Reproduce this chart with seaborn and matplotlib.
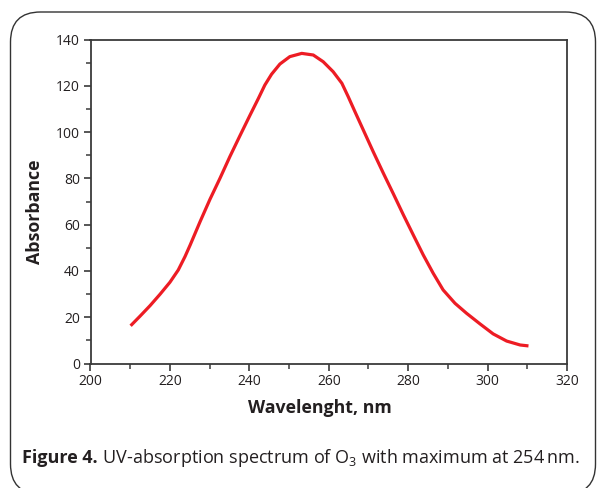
import matplotlib
matplotlib.use("Agg")
import matplotlib.pyplot as plt
import matplotlib.transforms as mtransforms
import seaborn as sns
import pandas as pd
from matplotlib.patches import FancyBboxPatch
from matplotlib.ticker import MultipleLocator

wavelength = [210.1, 212.5, 215.0, 217.5, 220.0, 222.1, 223.8, 225.1, 227.6, 230.1,
              232.6, 235.1, 237.6, 240.2, 242.3, 243.9, 245.6, 247.7, 250.2, 253.2,
              256.1, 258.6, 261.1, 263.3, 264.9, 266.6, 268.7, 271.2, 273.7, 276.3,
              278.8, 281.3, 283.8, 286.3, 288.8, 291.8, 294.7, 298.1, 301.4, 304.8,
              308.2, 310.3]
absorbance = [16.3, 20.5, 25.0, 29.9, 35.1, 40.4, 46.2, 51.2, 61.3, 71.0,
              80.0, 89.4, 98.3, 107.4, 114.6, 120.3, 125.0, 129.4, 132.6, 134.0,
              133.3, 130.4, 126.1, 121.1, 115.3, 108.8, 100.9, 91.5, 82.4, 73.2,
              64.2, 55.5, 46.9, 39.0, 31.8, 26.0, 21.7, 17.1, 12.8, 9.7,
              8.0, 7.6]
x_ticks = [200, 220, 240, 260, 280, 300, 320]
y_ticks = [0, 20, 40, 60, 80, 100, 120, 140]
x_label = "Wavelenght, nm"
y_label = "Absorbance"
caption_bold = "Figure 4."
caption_rest = " UV-absorption spectrum of O$_3$ with maximum at 254\u2009nm."

sns.set_style("ticks")
plt.rcParams['font.family'] = ['Open Sans', 'DejaVu Sans']
plt.rcParams['mathtext.fontset'] = 'custom'
plt.rcParams['mathtext.rm'] = 'Open Sans'
plt.rcParams['mathtext.it'] = 'Open Sans:italic'
plt.rcParams['mathtext.bf'] = 'Open Sans:bold'

text_col = "#231f20"
W, H = 597, 488
fig = plt.figure(figsize=(W / 100, H / 100), dpi=100)
fig.patch.set_facecolor("white")

# rounded frame (pixel coordinates)
frame = FancyBboxPatch((10.5, -6), 585, H - 12 + 6,
                       boxstyle="round,pad=0,rounding_size=30",
                       transform=mtransforms.IdentityTransform(),
                       facecolor="none", edgecolor="#333333", linewidth=1.0,
                       clip_on=False)
fig.patches.append(frame)

ax = fig.add_axes([90.5 / W, 1 - 363.5 / H, (567 - 90.5) / W, (363.5 - 39.5) / H])
df = pd.DataFrame({"wl": wavelength, "abs": absorbance})
sns.lineplot(data=df, x="wl", y="abs", ax=ax, color="#ed1c24", linewidth=2.3)
for ln in ax.lines:
    ln.set_solid_joinstyle("round")
    ln.set_solid_capstyle("butt")

ax.set_xlim(200, 320)
ax.set_ylim(0, 140)
ax.set_xticks(x_ticks)
ax.set_yticks(y_ticks)
ax.xaxis.set_minor_locator(MultipleLocator(10))
ax.yaxis.set_minor_locator(MultipleLocator(10))
for s in ax.spines.values():
    s.set_visible(True)
    s.set_color("#3a3a3a")
    s.set_linewidth(1.3)
ax.tick_params(which="major", direction="out", length=5, width=1.2, color="#3a3a3a",
               labelsize=10, labelcolor=text_col, pad=2.5)
ax.tick_params(which="minor", direction="out", length=3.5, width=1.1, color="#3a3a3a")
ax.set_xlabel(x_label, fontsize=12.8, fontweight="bold", color=text_col)
ax.set_ylabel(y_label, fontsize=12.8, fontweight="bold", color=text_col)
ax.xaxis.set_label_coords((320 - 90.5) / 476.5, (363.5 - 408) / 324)
ax.xaxis.label.set_va("center")
ax.yaxis.set_label_coords((35 - 90.5) / 476.5, (363.5 - 212) / 324)
ax.yaxis.label.set_va("center")

fig.canvas.draw()
renderer = fig.canvas.get_renderer()
t1 = fig.text(22 / W, 1 - 458 / H, caption_bold, fontsize=13, fontweight="bold",
              color=text_col, va="center", ha="left")
bb = t1.get_window_extent(renderer)
t2 = fig.text(bb.x1 / W, 1 - 458 / H, caption_rest, fontsize=13,
              color=text_col, va="center", ha="left")

fig.savefig("out.png", dpi=100)
